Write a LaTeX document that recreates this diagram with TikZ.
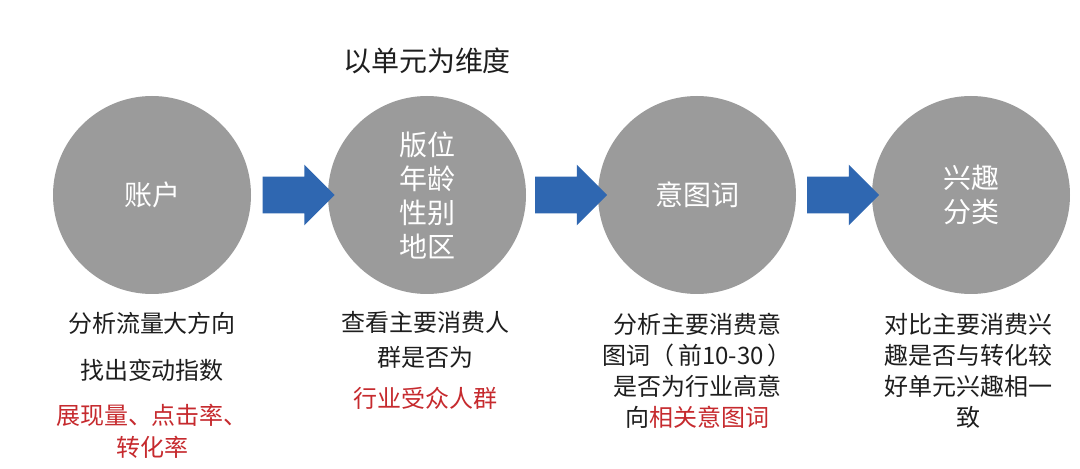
\documentclass[tikz,border=0pt]{standalone}
\usepackage{fontspec}
\setmainfont{Noto Sans CJK SC}
\usetikzlibrary{shapes.arrows,calc}
\definecolor{flowgray}{HTML}{9B9B9B}
\definecolor{flowblue}{HTML}{2F67B1}
\definecolor{flowred}{HTML}{C62A2E}
\definecolor{flowtext}{HTML}{1E1E1E}

\begin{document}
\begin{tikzpicture}[
  x=0.6pt, y=-0.6pt,
  stage/.style={circle, fill=flowgray, minimum size=118.8pt, inner sep=0pt,
                text=white, align=center, font=\fontsize{16.8}{20.4}\selectfont},
  flowarrow/.style={single arrow, fill=flowblue, minimum height=43.2pt,
                    single arrow head extend=7.2pt, inner xsep=0pt, inner ysep=10.8pt},
  note/.style={font=\fontsize{14.4}{18.6}\selectfont, text=flowtext,
               align=center, inner sep=0pt},
  hilite/.style={note, text=flowred},
]

%% ---- canvas ----
\useasboundingbox[fill=white] (0,0) rectangle (1080,469);

%% ---- title ----
\node[font=\fontsize{16.8}{20}\selectfont, text=flowtext] (title) at (427,61)
  {以单元为维度};

%% ---- stages ----
\node[stage] (c1) at (152,195) {账户};
\node[stage] (c2) at (427,195) {版位\\年龄\\性别\\地区};
\node[stage] (c3) at (697,195) {意图词};
\node[stage] (c4) at (971,195) {兴趣\\分类};

%% ---- block arrows between stages ----
\node[flowarrow] (a1) at ($(c1.east)!0.5!(c2.west)$) {};
\node[flowarrow] (a2) at ($(c2.east)!0.5!(c3.west)$) {};
\node[flowarrow] (a3) at ($(c3.east)!0.5!(c4.west)$) {};

%% ---- notes under each stage ----
% account
\node[note] (n1a) at (152,323) {分析流量大方向};
\node[note] (n1b) at (152,370) {找出变动指数};
\node[hilite] (n1c) at (152,415) {展现量、点击率、};
\node[hilite] (n1d) at (152,447) {转化率};

% unit targeting
\node[note, font=\fontsize{14.4}{21}\selectfont] (n2a) at (425,340)
  {查看主要消费人\\群是否为};
\node[hilite] (n2b) at (425,398) {行业受众人群};

% intent words
\node[note] (n3) at (697,371)
  {分析主要消费意\\图词（\,前10-30\,）\\是否为行业高意\\向\textcolor{flowred}{相关意图词}};

% interests
\node[note] (n4) at (968,371)
  {对比主要消费兴\\趣是否与转化较\\好单元兴趣相一\\致};

\end{tikzpicture}
\end{document}
